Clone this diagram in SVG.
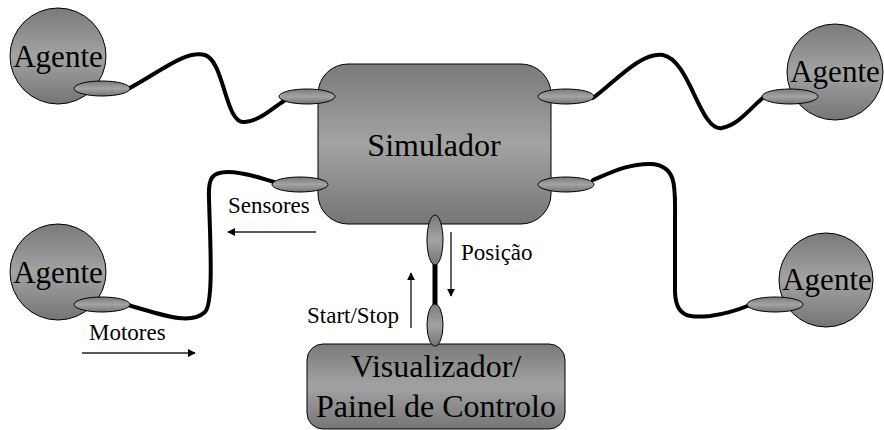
<svg xmlns="http://www.w3.org/2000/svg" width="884" height="430" viewBox="0 0 884 430" font-family="Liberation Serif">
<defs>
<linearGradient id="g" x1="0" y1="0" x2="0" y2="1">
<stop offset="0" stop-color="#7a7a7a"/>
<stop offset="0.5" stop-color="#a3a3a3"/>
<stop offset="1" stop-color="#757575"/>
</linearGradient>
<marker id="ah" viewBox="0 0 10 10" refX="9" refY="5" markerWidth="8" markerHeight="8" markerUnits="userSpaceOnUse" orient="auto">
<path d="M0,0 L10,5 L0,10 z" fill="#000"/>
</marker>
</defs>
<style>
.shape{fill:url(#g);stroke:#000;stroke-width:1}
.wire{fill:none;stroke:#000;stroke-width:4;stroke-linecap:round}
.arr{fill:none;stroke:#222;stroke-width:1.4;marker-end:url(#ah)}
</style>
<rect width="884" height="430" fill="#fff"/>
<g id="connectors">
<path class="wire" d="M128,89 C160,72 185,50 205,55 C225,62 225,125 245,122 C262,120 272,108 284,101"/>
<path class="wire" d="M593,98 C615,82 640,52 663,55 C690,60 700,132 722,128 C740,124 750,108 764,97"/>
<path class="wire" d="M128,305 C160,314 190,326 205,312 C214,302 210,240 209,198 C208,178 212,172 228,172 C245,172 260,178 274,182"/>
<path class="wire" d="M593,180 C612,172 630,163 652,164 C678,166 675,190 675,220 L675,290 C675,318 690,318 710,316 C725,314 738,310 750,305"/>
<line x1="435" y1="262" x2="435" y2="305" stroke="#000" stroke-width="5"/>
<line class="arr" x1="316" y1="232" x2="228" y2="232"/>
<line class="arr" x1="82" y1="353" x2="195" y2="353"/>
<line class="arr" x1="451" y1="232" x2="451" y2="296"/>
<line class="arr" x1="411" y1="328" x2="411" y2="273"/>
</g>
<g id="simulador">
<rect class="shape" x="318" y="64" width="233" height="160" rx="30" ry="30"/>
<text x="434" y="156" font-family="Liberation Serif" font-size="32" text-anchor="middle">Simulador</text>
<ellipse class="shape" cx="307" cy="96.5" rx="28" ry="7.5"/>
<ellipse class="shape" cx="566" cy="96.5" rx="28" ry="7.5"/>
<ellipse class="shape" cx="300" cy="184.5" rx="28" ry="7.5"/>
<ellipse class="shape" cx="566" cy="184.5" rx="28" ry="7.5"/>
<ellipse class="shape" cx="435" cy="240" rx="8" ry="25"/>
</g>
<g id="visualizador">
<rect class="shape" x="307" y="344" width="258" height="85" rx="16" ry="16"/>
<ellipse class="shape" cx="435" cy="325" rx="8" ry="21"/>
<text x="436" y="377" font-family="Liberation Serif" font-size="32" text-anchor="middle">Visualizador/</text>
<text x="436" y="417" font-family="Liberation Serif" font-size="32" text-anchor="middle">Painel de Controlo</text>
</g>
<g id="agente-tl">
<circle class="shape" cx="58" cy="56" r="48"/>
<text x="58" y="67" font-family="Liberation Serif" font-size="31" text-anchor="middle">Agente</text>
<ellipse class="shape" cx="102" cy="88.5" rx="28" ry="7.5"/>
</g>
<g id="agente-tr">
<circle class="shape" cx="835" cy="72" r="48"/>
<text x="835" y="82" font-family="Liberation Serif" font-size="31" text-anchor="middle">Agente</text>
<ellipse class="shape" cx="790" cy="96.5" rx="28" ry="7.5"/>
</g>
<g id="agente-bl">
<circle class="shape" cx="58" cy="272" r="48"/>
<text x="58" y="283" font-family="Liberation Serif" font-size="31" text-anchor="middle">Agente</text>
<ellipse class="shape" cx="102" cy="304.5" rx="28" ry="7.5"/>
</g>
<g id="agente-br">
<circle class="shape" cx="826" cy="280" r="47"/>
<text x="827" y="290" font-family="Liberation Serif" font-size="31" text-anchor="middle">Agente</text>
<ellipse class="shape" cx="775" cy="304.5" rx="28" ry="7.5"/>
</g>
<g id="labels">
<text x="228" y="213" font-family="Liberation Serif" font-size="23">Sensores</text>
<text x="89" y="340" font-family="Liberation Serif" font-size="23">Motores</text>
<text x="461" y="260" font-family="Liberation Serif" font-size="23">Posi&#231;&#227;o</text>
<text x="307" y="323" font-family="Liberation Serif" font-size="23">Start/Stop</text>
</g>
</svg>
